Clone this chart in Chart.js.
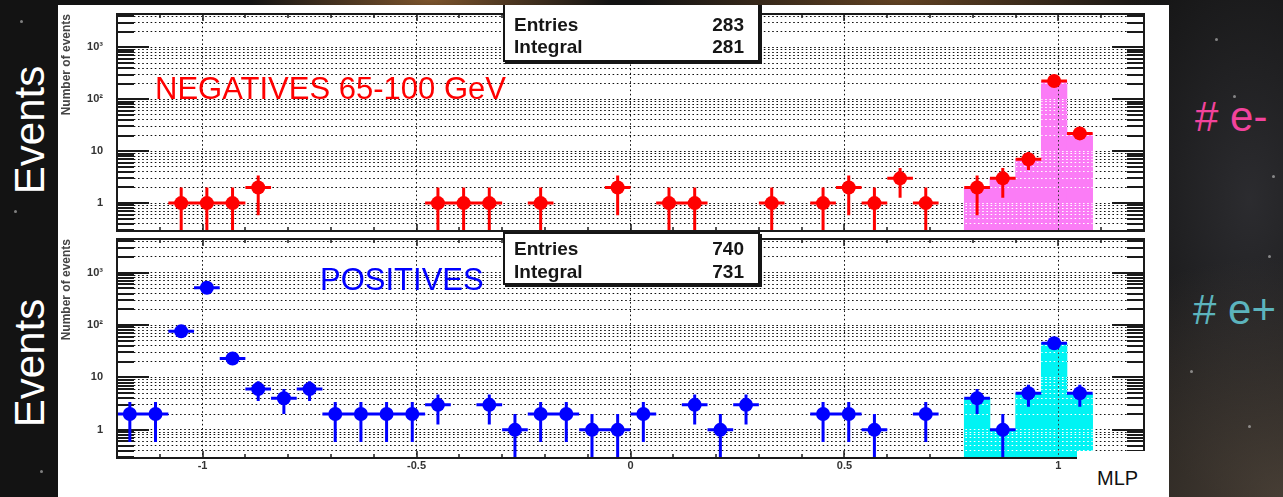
<!DOCTYPE html>
<html>
<head>
<meta charset="utf-8">
<script src="https://cdn.jsdelivr.net/npm/chart.js@4.4.1/dist/chart.umd.min.js"></script>
<style>
  body {
    margin: 0; width: 1283px; height: 497px; overflow: hidden; position: relative;
    font-family: "Liberation Sans", Arial, Helvetica, sans-serif;
    background:
      radial-gradient(ellipse 180px 40px at 430px 0px, rgba(150,100,50,0.8), transparent),
      radial-gradient(ellipse 260px 40px at 900px 0px, rgba(130,85,40,0.7), transparent),
      radial-gradient(ellipse 300px 240px at 1283px 497px, rgba(105,90,75,0.6), transparent),
      radial-gradient(ellipse 160px 300px at 1250px 200px, rgba(60,60,66,0.6), transparent),
      #131313;
  }
  .star { position: absolute; width: 3px; height: 3px; border-radius: 50%; background: rgba(200,200,200,0.6); }
  #sheet { position: absolute; left: 58px; top: 5px; width: 1111px; height: 492px; background: #fff; overflow: hidden; }
  #sheet canvas { position: absolute; left: 0; }
  #cNeg { top: 0; }
  #cPos { top: 227px; }
  .stats { position: absolute; left: 445px; width: 253px; background: #fff; border: 2px solid #151515; box-shadow: 2px 2px 0 #151515; }
  .row { position: absolute; left: 9px; right: 14px; height: 22px; line-height: 22px; font-size: 19px; font-weight: bold; color: #161616; }
  .row span:last-child { float: right; }
  .tag { position: absolute; white-space: nowrap; line-height: 1; }
  .events { position: absolute; color: #fff; font-size: 42px; line-height: 1; transform: translate(-50%, -50%) rotate(-90deg); }
  #mlpBox { position: absolute; left: 1019px; top: 446px; width: 92px; height: 46px; background: #fff; }
</style>
</head>
<body>
<div class="star" style="left:14px;top:210px"></div>
<div class="star" style="left:40px;top:470px"></div>
<div class="star" style="left:20px;top:20px"></div>
<div class="star" style="left:1215px;top:38px"></div>
<div class="star" style="left:1233px;top:95px"></div>
<div class="star" style="left:1272px;top:175px"></div>
<div class="star" style="left:1268px;top:255px"></div>
<div class="star" style="left:1248px;top:425px"></div>
<div class="star" style="left:1190px;top:370px"></div>

<div class="events" style="left:30px;top:130px">Events</div>
<div class="events" style="left:30px;top:363px">Events</div>
<div class="tag" style="left:1195px;top:96px;font-size:42px;color:#f2439c">#&nbsp;e-</div>
<div class="tag" style="left:1193px;top:289px;font-size:42px;color:#5cb4bd">#&nbsp;e+</div>

<div id="sheet">
  <canvas id="cNeg" width="1111" height="233"></canvas>
  <canvas id="cPos" width="1111" height="265"></canvas>
  <div class="tag" style="left:97px;top:68px;font-size:31px;color:#ff0000">NEGATIVES 65-100 GeV</div>
  <div class="tag" style="left:262px;top:259px;font-size:31px;color:#0000ff">POSITIVES</div>
  <div class="stats" style="top:-15px;height:68px">
    <div class="row" style="top:22px"><span>Entries</span><span id="negEntries"></span></div>
    <div class="row" style="top:44px"><span>Integral</span><span id="negIntegral"></span></div>
  </div>
  <div class="stats" style="top:227px;height:49px">
    <div class="row" style="top:4px"><span>Entries</span><span id="posEntries"></span></div>
    <div class="row" style="top:27px"><span>Integral</span><span id="posIntegral"></span></div>
  </div>
  <div id="mlpBox"><div class="tag" style="left:20px;top:17px;font-size:20px;color:#111">MLP</div></div>
</div>

<script>
// bin centres (MLP output, 0.06 wide bins) and event counts
const negMlp = [-1.05, -0.99, -0.93, -0.87, -0.45, -0.39, -0.33, -0.21, -0.03, 0.09, 0.15,
                0.33, 0.45, 0.51, 0.57, 0.63, 0.69, 0.81, 0.87, 0.93, 0.99, 1.05];
const negEvents = [1, 1, 1, 2, 1, 1, 1, 1, 2, 1, 1, 1, 1, 2, 1, 3, 1, 2, 3, 7, 225, 22];

const posMlp = [-1.17, -1.11, -1.05, -0.99, -0.93, -0.87, -0.81, -0.75, -0.69, -0.63, -0.57,
                -0.51, -0.45, -0.33, -0.27, -0.21, -0.15, -0.09, -0.03, 0.03, 0.15, 0.21,
                0.27, 0.45, 0.51, 0.57, 0.69, 0.81, 0.87, 0.93, 0.99, 1.05];
const posEvents = [2, 2, 76, 515, 23, 6, 4, 6, 2, 2, 2, 2, 3, 3, 1, 2, 2, 1, 1, 2, 3, 1,
                   3, 2, 2, 1, 2, 4, 1, 5, 45, 5];

const negStats = ['283', '281'];
const posStats = ['740', '731'];

const binWidth = 0.06;
const mlpCut = 0.78;   // selected region, drawn as filled histogram

const xTickValues = [-1, -0.5, 0, 0.5, 1];
const xTickText = ['-1', '-0.5', '0', '0.5', '1'];
const yTickValues = [1, 10, 100, 1000];
const yTickText = ['1', '10', '10²', '10³'];

document.getElementById('negEntries').textContent = negStats[0];
document.getElementById('negIntegral').textContent = negStats[1];
document.getElementById('posEntries').textContent = posStats[0];
document.getElementById('posIntegral').textContent = posStats[1];

// log grid: 1..9 x 10^n, plus minor x ticks every 0.1
const yGrid = [];
for (let e = -1; e <= 3; e++) {
    for (let m = 1; m <= 9; m++) {
        const v = Number((m * Math.pow(10, e)).toPrecision(3));
        if (v >= 0.3 && v <= 4000) yGrid.push(v);
    }
}
const xMinor = [];
for (let i = -12; i <= 12; i++) xMinor.push(i / 10);

const gridDash = [1.6, 2.6];
const ink = '#1a1a1a';

function align(p) {
    return Math.round(p - 0.5) + 0.5;
}

// frame, inward ticks, error bars and grid over the filled histogram
const rootFrame = {
    id: 'rootFrame',
    beforeDatasetsDraw(chart) {
        const { ctx, chartArea: a, scales: { x, y } } = chart;
        ctx.save();
        ctx.strokeStyle = ink;
        ctx.lineWidth = 2;
        ctx.beginPath();
        yGrid.forEach(v => {
            const py = Math.round(y.getPixelForValue(v));
            const len = yTickValues.includes(v) ? 32 : 17;
            ctx.moveTo(a.left, py); ctx.lineTo(a.left + len, py);
            ctx.moveTo(a.right - len, py); ctx.lineTo(a.right, py);
        });
        ctx.stroke();
        ctx.lineWidth = 1.5;
        ctx.beginPath();
        xMinor.forEach(v => {
            const px = Math.round(x.getPixelForValue(v));
            const len = xTickValues.includes(v) ? 7 : 4;
            ctx.moveTo(px, a.bottom); ctx.lineTo(px, a.bottom - len);
            ctx.moveTo(px, a.top); ctx.lineTo(px, a.top + len);
        });
        ctx.stroke();
        ctx.restore();
    },
    beforeDatasetDraw(chart, args) {
        const ds = chart.data.datasets[args.index];
        if (!ds.errorBars) return;
        const { ctx, chartArea: a, scales: { x, y } } = chart;
        ctx.save();
        ctx.strokeStyle = ds.pointBackgroundColor;
        ctx.lineWidth = 3;
        ctx.beginPath();
        ds.data.forEach(p => {
            const err = Math.sqrt(p.y);
            const px = x.getPixelForValue(p.x);
            const py = y.getPixelForValue(p.y);
            const hi = Math.max(y.getPixelForValue(p.y + err), a.top);
            const lo = p.y - err > 0 ? Math.min(y.getPixelForValue(p.y - err), a.bottom) : a.bottom;
            ctx.moveTo(px, hi); ctx.lineTo(px, lo);
            ctx.moveTo(x.getPixelForValue(p.x - binWidth / 2), py);
            ctx.lineTo(x.getPixelForValue(p.x + binWidth / 2), py);
        });
        ctx.stroke();
        ctx.restore();
    },
    afterDatasetDraw(chart, args) {
        const ds = chart.data.datasets[args.index];
        if (!ds.histogram) return;
        const { ctx, chartArea: a, scales: { x, y } } = chart;
        ctx.save();
        ctx.beginPath();
        args.meta.data.forEach(el => {
            const b = el.getProps(['x', 'y', 'base', 'width'], true);
            ctx.rect(b.x - b.width / 2, b.y, b.width, b.base - b.y);
        });
        ctx.clip();
        ctx.lineWidth = 1;
        ctx.setLineDash(gridDash);
        ctx.strokeStyle = '#ffffff';
        ctx.beginPath();
        yGrid.forEach(v => {
            const py = align(y.getPixelForValue(v));
            ctx.moveTo(a.left, py); ctx.lineTo(a.right, py);
        });
        ctx.stroke();
        ctx.strokeStyle = '#333';
        ctx.beginPath();
        xTickValues.forEach(v => {
            const px = align(x.getPixelForValue(v));
            ctx.moveTo(px, a.top); ctx.lineTo(px, a.bottom);
        });
        ctx.stroke();
        ctx.restore();
    },
    afterDraw(chart) {
        const { ctx, chartArea: a } = chart;
        ctx.save();
        ctx.strokeStyle = ink;
        ctx.lineWidth = 2;
        ctx.strokeRect(a.left, a.top, a.right - a.left, a.bottom - a.top);
        ctx.restore();
    }
};

const tickFont = { family: 'Liberation Sans', size: 11, weight: 'bold' };

// pin the axis boxes so the plot frame lands where it should
function fixBox(size) {
    return s => {
        if (s.isHorizontal()) s.height = size; else s.width = size;
        s.paddingTop = 0;
        s.paddingBottom = 0;
        s.paddingLeft = 0;
        s.paddingRight = 0;
    };
}

function drawPanel(canvasId, mlp, events, colour, fill, padTop, xHeight, showX) {
    const points = mlp.map((m, i) => ({ x: m, y: events[i] }));
    const selected = points.filter(p => p.x > mlpCut);

    return new Chart(document.getElementById(canvasId), {
        type: 'bar',
        data: {
            datasets: [
                {
                    type: 'line',
                    data: points,
                    showLine: false,
                    errorBars: true,
                    pointRadius: 7,
                    pointBorderWidth: 0,
                    pointBackgroundColor: colour,
                    order: 0
                },
                {
                    type: 'bar',
                    data: selected,
                    histogram: true,
                    backgroundColor: fill,
                    borderWidth: 0,
                    barPercentage: 1,
                    categoryPercentage: 1,
                    order: 1
                }
            ]
        },
        options: {
            responsive: false,
            animation: false,
            events: [],
            layout: { padding: { top: padTop, right: 25, left: 0, bottom: 0 } },
            plugins: { legend: { display: false }, tooltip: { enabled: false } },
            scales: {
                x: {
                    type: 'linear',
                    min: -1.2,
                    max: 1.2,
                    offset: false,
                    afterBuildTicks: s => { s.ticks = xTickValues.map(v => ({ value: v })); },
                    afterFit: fixBox(xHeight),
                    grid: { color: '#111', lineWidth: 1, drawTicks: false, offset: false },
                    border: { display: false, dash: gridDash },
                    ticks: {
                        display: showX,
                        autoSkip: false,
                        maxRotation: 0,
                        padding: 1,
                        color: '#333',
                        font: tickFont,
                        callback: v => xTickText[xTickValues.indexOf(v)] ?? ''
                    }
                },
                y: {
                    type: 'logarithmic',
                    min: 0.29,
                    max: 4400,
                    afterBuildTicks: s => { s.ticks = yGrid.map(v => ({ value: v })); },
                    afterFit: fixBox(59),
                    grid: { color: '#111', lineWidth: 1, drawTicks: false },
                    border: { display: false, dash: gridDash },
                    ticks: {
                        autoSkip: false,
                        padding: 14,
                        color: '#333',
                        font: tickFont,
                        callback: v => {
                            const i = yTickValues.indexOf(v);
                            return i < 0 ? '' : yTickText[i];
                        }
                    },
                    title: {
                        display: true,
                        text: 'Number of events',
                        align: 'end',
                        color: '#444',
                        font: { family: 'Liberation Sans', size: 12, weight: 'bold' },
                        padding: { top: 1, bottom: 0 }
                    }
                }
            }
        },
        plugins: [rootFrame]
    });
}

drawPanel('cNeg', negMlp, negEvents, '#ff0000', '#fb7cf6', 9, 7, false);
drawPanel('cPos', posMlp, posEvents, '#0000ff', '#00f4f4', 6, 39, true);
</script>
</body>
</html>
